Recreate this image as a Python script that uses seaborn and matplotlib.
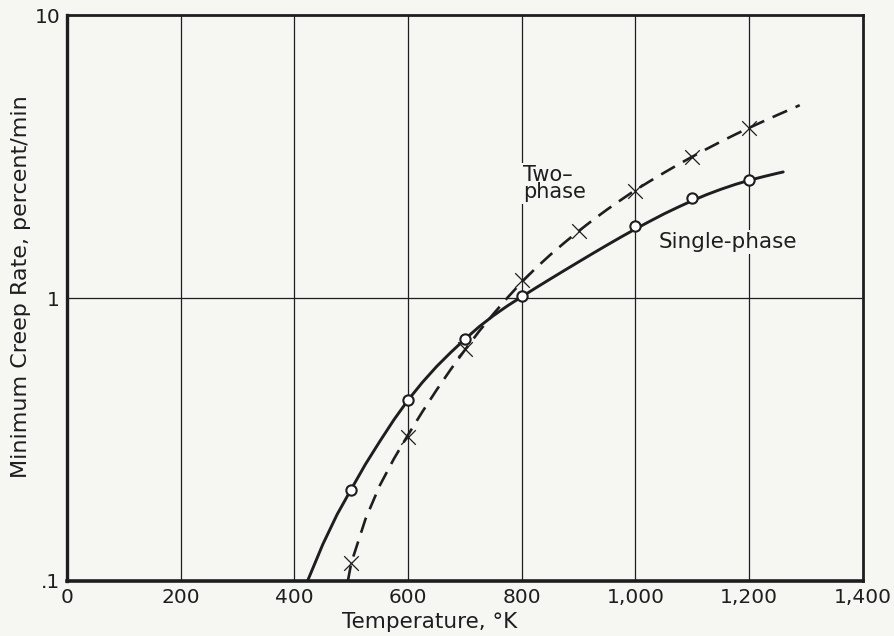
import matplotlib
matplotlib.use("Agg")
import matplotlib.pyplot as plt
import matplotlib.ticker as mticker
import seaborn as sns
import pandas as pd

# Measured minimum creep rates (percent/min) against temperature (K)
single_T = [500, 600, 700, 800, 1000, 1100, 1200]
single_rate = [0.21, 0.436, 0.716, 1.02, 1.80, 2.26, 2.61]

two_T = [500, 600, 700, 800, 900, 1000, 1100, 1200]
two_rate = [0.116, 0.323, 0.66, 1.16, 1.73, 2.40, 3.15, 3.99]

# Faired curves through each set of measurements
single_curve_T = [423, 450, 475, 500, 525, 550, 575, 600, 625, 650, 675,
                  700, 725, 750, 775, 800, 825, 850, 875, 900, 925, 950,
                  975, 1000, 1025, 1050, 1075, 1100, 1125, 1150, 1175,
                  1200, 1225, 1250, 1260]
single_curve_rate = [0.100, 0.1349, 0.1718, 0.2113, 0.2588, 0.3112, 0.3715,
                     0.4365, 0.5035, 0.5728, 0.6427, 0.7161, 0.7925, 0.8670,
                     0.9397, 1.0116, 1.088, 1.168, 1.253, 1.343, 1.439,
                     1.540, 1.646, 1.756, 1.868, 1.984, 2.097, 2.211, 2.321,
                     2.424, 2.521, 2.609, 2.688, 2.764, 2.793]

two_curve_T = [494, 500, 525, 550, 575, 600, 625, 650, 675, 700, 725, 750,
               775, 800, 825, 850, 875, 900, 925, 950, 975, 1000, 1025,
               1050, 1075, 1100, 1125, 1150, 1175, 1200, 1225, 1250, 1275,
               1289]
two_curve_rate = [0.100, 0.1159, 0.1656, 0.2173, 0.2704, 0.3289, 0.3963,
                  0.4732, 0.5598, 0.6561, 0.7638, 0.8790, 1.0046, 1.140,
                  1.279, 1.422, 1.570, 1.726, 1.888, 2.056, 2.228, 2.410,
                  2.588, 2.773, 2.965, 3.162, 3.365, 3.573, 3.784, 3.999,
                  4.217, 4.442, 4.673, 4.808]

x_ticks = [0, 200, 400, 600, 800, 1000, 1200, 1400]
x_tick_labels = ["0", "200", "400", "600", "800", "1,000", "1,200", "1,400"]
y_ticks = [0.1, 1, 10]
y_tick_labels = [".1", "1", "10"]

sns.set_style("white")
plt.rcParams["font.family"] = ["DejaVu Sans"]

ink = "#1e1e1e"
paper = "#f6f6f3"

fig = plt.figure(figsize=(8.95, 6.36), dpi=100, facecolor=paper)
ax = fig.add_axes([0.075, 0.0865, 0.889, 0.8895])
ax.set_facecolor(paper)

single_curve = pd.DataFrame({"T": single_curve_T, "rate": single_curve_rate})
two_curve = pd.DataFrame({"T": two_curve_T, "rate": two_curve_rate})
single_pts = pd.DataFrame({"T": single_T, "rate": single_rate})
two_pts = pd.DataFrame({"T": two_T, "rate": two_rate})

ax.set_yscale("log")
ax.set_xlim(0, 1400)
ax.set_ylim(0.1, 10)

# Grid: verticals every 200 K, a single horizontal at 1 percent/min
for xv in x_ticks[1:-1]:
    ax.axvline(xv, color=ink, lw=0.9, zorder=1)
ax.axhline(1, color=ink, lw=0.9, zorder=1)

sns.lineplot(data=single_curve, x="T", y="rate", ax=ax, color=ink, lw=2.1,
             sort=False, zorder=3)
sns.lineplot(data=two_curve, x="T", y="rate", ax=ax, color=ink, lw=1.9,
             sort=False, zorder=3)
ax.lines[-1].set_dashes([6, 3.5])

sns.scatterplot(data=two_pts, x="T", y="rate", ax=ax, marker="x", s=110,
                color=ink, linewidth=0.9, zorder=4)
sns.scatterplot(data=single_pts, x="T", y="rate", ax=ax, marker="o", s=55,
                facecolor="white", edgecolor=ink, linewidth=1.5, zorder=5)

# Curve labels sit on a paper-coloured patch that breaks the grid lines
label_box = dict(facecolor=paper, edgecolor="none", pad=1.5)
ax.text(802, 2.95, "Two–\nphase", fontsize=15, color=ink, ha="left",
        va="top", linespacing=0.8, bbox=label_box, zorder=6)
ax.text(1040, 1.50, "Single-phase", fontsize=15.5, color=ink,
        ha="left", va="baseline", bbox=label_box, zorder=6)

ax.set_xticks(x_ticks)
ax.set_xticklabels(x_tick_labels)
ax.yaxis.set_major_locator(mticker.FixedLocator(y_ticks))
ax.yaxis.set_minor_locator(mticker.NullLocator())
ax.set_yticks(y_ticks)
ax.set_yticklabels(y_tick_labels)
ax.tick_params(axis="both", length=0, labelsize=14.5, colors=ink)
ax.tick_params(axis="x", pad=5)
ax.tick_params(axis="y", pad=5)
ax.set_xlabel("")
ax.set_ylabel("")

fig.text(0.480, 0.022, "Temperature, °K", fontsize=15.5, color=ink,
         ha="center", va="center")
fig.text(0.024, 0.549, "Minimum Creep Rate, percent/min", fontsize=16,
         color=ink, ha="center", va="center", rotation=90)

for side in ["left", "right", "top", "bottom"]:
    ax.spines[side].set_visible(True)
    ax.spines[side].set_color(ink)
    ax.spines[side].set_linewidth(2.0)
ax.spines["bottom"].set_linewidth(2.6)
ax.spines["left"].set_linewidth(2.4)

fig.savefig("out.png", dpi=100, facecolor=paper)
